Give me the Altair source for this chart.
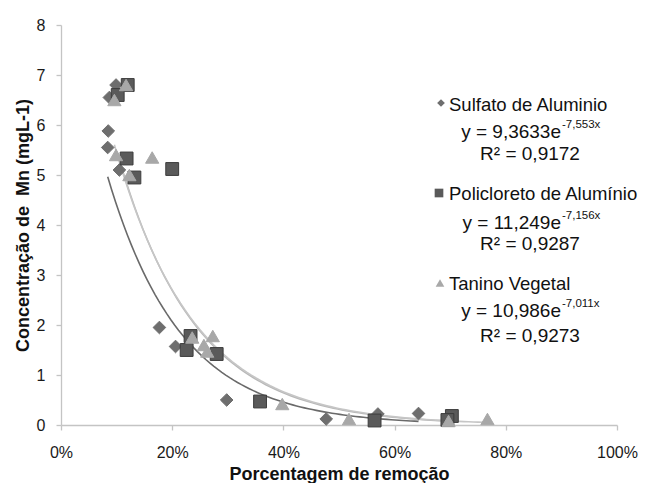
import altair as alt
import numpy as np
import pandas as pd

# ---- data ----
series_names = ["Sulfato de Aluminio", "Policloreto de Alumínio", "Tanino Vegetal"]

sulf_x = [9.9, 8.7, 8.5, 8.4, 10.5, 17.7, 20.6, 29.8, 47.7, 57.0, 64.3]
sulf_y = [6.8, 6.55, 5.88, 5.55, 5.1, 1.95, 1.57, 0.5, 0.12, 0.22, 0.23]

poli_x = [12.0, 10.2, 11.8, 13.2, 20.0, 23.3, 22.6, 28.0, 35.8, 56.4, 70.3, 69.5]
poli_y = [6.8, 6.6, 5.33, 4.95, 5.12, 1.78, 1.5, 1.42, 0.47, 0.09, 0.18, 0.1]

tan_x = [11.7, 9.6, 9.9, 16.4, 12.3, 23.6, 27.3, 25.7, 26.3, 39.8, 51.8, 69.7, 76.7]
tan_y = [6.8, 6.5, 5.4, 5.35, 5.0, 1.75, 1.78, 1.6, 1.47, 0.42, 0.12, 0.08, 0.12]

# trendline equations shown on the chart: y = a * e^(b x)
trend_a = [9.3633, 11.249, 10.986]
trend_b = [-7.553, -7.156, -7.011]
eq_main = ["y = 9,3633e", "y = 11,249e", "y = 10,986e"]
eq_sup = ["-7,553x", "-7,156x", "-7,011x"]
r2_text = ["R² = 0,9172", "R² = 0,9287", "R² = 0,9273"]

x_ticks = [0, 0.2, 0.4, 0.6, 0.8, 1.0]
y_ticks = [0, 1, 2, 3, 4, 5, 6, 7, 8]

shapes = ["diamond", "square", "triangle-up"]
fills = ["#6e6e6e", "#5a5a5a", "#a8a8a8"]
line_colors = ["#6a6a6a", "#b8b8b8", "#c6c6c6"]

# ---- tables ----
rows = []
for name, xs, ys in zip(series_names, [sulf_x, poli_x, tan_x], [sulf_y, poli_y, tan_y]):
    for a, b in zip(xs, ys):
        rows.append({"serie": name, "x": a / 100.0, "y": b})
pts = pd.DataFrame(rows)

curves = []
for name, xs, a, b in zip(series_names, [sulf_x, poli_x, tan_x], trend_a, trend_b):
    for xv in np.linspace(min(xs) / 100.0, max(xs) / 100.0, 80):
        curves.append({"serie": name, "x": xv, "y": a * np.exp(b * xv)})
curv = pd.DataFrame(curves)

W, H = 556, 400

xscale = alt.Scale(domain=[0, 1], nice=False)
yscale = alt.Scale(domain=[0, 8], nice=False)

xaxis = alt.Axis(values=x_ticks, format=".0%", title="Porcentagem de remoção",
                 grid=False, tickSize=5, labelPadding=14, titlePadding=5,
                 labelFlush=False)
yaxis = alt.Axis(values=y_ticks, title="Concentração de \u00a0Mn (mgL-1)",
                 grid=False, tickSize=5, labelPadding=11, titlePadding=4)

color_scale = alt.Scale(domain=series_names, range=line_colors)

lines = alt.Chart(curv).mark_line(strokeWidth=1.6).encode(
    x=alt.X("x:Q", scale=xscale, axis=xaxis),
    y=alt.Y("y:Q", scale=yscale, axis=yaxis),
    color=alt.Color("serie:N", scale=color_scale, legend=None),
    detail="serie:N",
)

layers = [lines]
for name, shp, col, sz, stroke in zip(series_names, shapes, fills, [160, 165, 175],
                                       ["#6e6e6e", "#3c3c3c", "#a8a8a8"]):
    layers.append(
        alt.Chart(pts[pts.serie == name]).mark_point(
            shape=shp, filled=True, size=sz, color=col, opacity=1,
            stroke=stroke, strokeWidth=1
        ).encode(x="x:Q", y="y:Q")
    )

# ---- legend / equation annotations (pixel positions inside the plot) ----
leg_sym_x = [380, 378, 379]
leg_sym_y = [78, 168, 258]
head_y = [86, 175, 265]
eq_y = [113, 204, 292]
r2_y = [135, 225, 317]
leg_sizes = [60, 75, 75]
text_left = 388
eq_split = 500
r2_center = 469

font = "Liberation Sans"
for i in range(3):
    one = pd.DataFrame({"t": [series_names[i]]})
    layers.append(alt.Chart(one).mark_point(
        shape=shapes[i], filled=True, size=leg_sizes[i], color=fills[i], opacity=1
    ).encode(x=alt.value(leg_sym_x[i]), y=alt.value(leg_sym_y[i])))
    layers.append(alt.Chart(one).mark_text(
        align="left", baseline="alphabetic", font=font, fontSize=18.5, color="#111111"
    ).encode(x=alt.value(text_left), y=alt.value(head_y[i]), text="t:N"))
    layers.append(alt.Chart(pd.DataFrame({"t": [eq_main[i]]})).mark_text(
        align="right", baseline="alphabetic", font=font, fontSize=19, color="#111111"
    ).encode(x=alt.value(eq_split), y=alt.value(eq_y[i]), text="t:N"))
    layers.append(alt.Chart(pd.DataFrame({"t": [eq_sup[i]]})).mark_text(
        align="left", baseline="alphabetic", font=font, fontSize=11.5, color="#111111"
    ).encode(x=alt.value(eq_split + 1), y=alt.value(eq_y[i] - 10), text="t:N"))
    layers.append(alt.Chart(pd.DataFrame({"t": [r2_text[i]]})).mark_text(
        align="center", baseline="alphabetic", font=font, fontSize=19, color="#111111"
    ).encode(x=alt.value(r2_center), y=alt.value(r2_y[i]), text="t:N"))

chart = alt.layer(*layers).properties(
    width=W, height=H,
    autosize=alt.AutoSizeParams(type="none"),
    padding={"left": 53, "top": 17, "right": 24, "bottom": 58},
).configure_view(stroke=None).configure_axis(
    domainColor="#c4c4c4", tickColor="#c4c4c4", domainWidth=1.3, tickWidth=1.3,
    labelFont=font, labelFontSize=16, labelColor="#1a1a1a",
    titleFont=font, titleFontSize=18, titleFontWeight="bold", titleColor="#111111",
)

chart.save("out.html", embed_options={"renderer": "svg", "actions": False})
